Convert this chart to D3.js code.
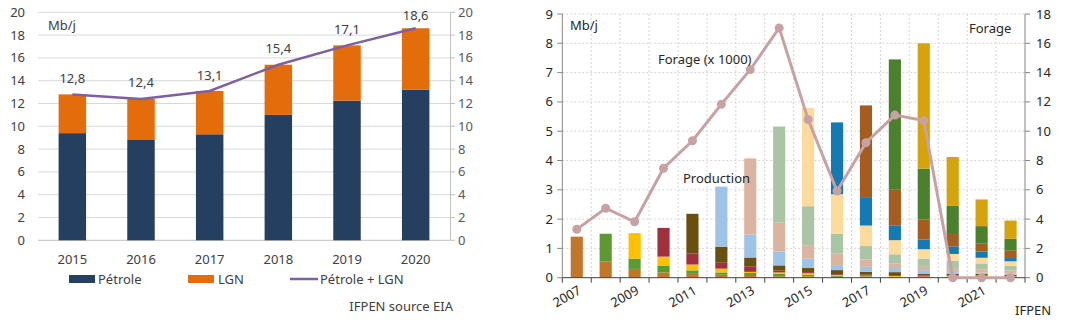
<!DOCTYPE html>
<html>
<head>
<meta charset="utf-8">
<script src="https://cdn.jsdelivr.net/npm/d3@7"></script>
<style>
  body { margin: 0; background: #fff; }
  svg { display: block; font-family: "Noto Sans", "Open Sans", sans-serif; }
</style>
</head>
<body>
<svg id="chart" width="1078" height="333"></svg>
<script>
// ---- left chart data (Mb/j)
var years1 = ['2015', '2016', '2017', '2018', '2019', '2020'];
var petrole = [9.4, 8.8, 9.3, 11.0, 12.25, 13.2];
var total = [12.8, 12.4, 13.1, 15.4, 17.1, 18.6];
var ticks1 = [0, 2, 4, 6, 8, 10, 12, 14, 16, 18, 20];

// ---- right chart data
var years2 = ['2007','2008','2009','2010','2011','2012','2013','2014','2015','2016','2017','2018','2019','2020','2021','2022'];
var xLabels2 = ['2007','2009','2011','2013','2015','2017','2019','2021'];
var vintages = ['2007','2008','2009','2010','2011','2012','2013','2014','2015','2016','2017','2018','2019'];
var vintageColors = ['#c27629','#5e9833','#ffc000','#a22f3e','#6a500f','#9dc3e6','#dab4a1','#aac5a4','#fddb9c','#1579b4','#a65c1f','#4b802d','#d5a30b'];
// production by vintage (rows) for each year of years2 (columns), Mb/j
var prod = [
  [1.4, 0.55, 0.3, 0.18, 0.13, 0.1, 0.06, 0.05, 0.04, 0.03, 0.02, 0.02, 0.01, 0.02, 0.02, 0.01],
  [0, 0.95, 0.35, 0.22, 0.12, 0.08, 0.1, 0.08, 0.06, 0.03, 0.03, 0.02, 0.02, 0.02, 0.02, 0.02],
  [0, 0, 0.87, 0.32, 0.2, 0.13, 0.04, 0.05, 0.05, 0.03, 0.02, 0.02, 0.01, 0.02, 0.02, 0.01],
  [0, 0, 0, 0.98, 0.38, 0.2, 0.19, 0.07, 0.04, 0.03, 0.03, 0.03, 0.03, 0.02, 0.02, 0.02],
  [0, 0, 0, 0, 1.35, 0.55, 0.3, 0.17, 0.14, 0.14, 0.1, 0.1, 0.07, 0.06, 0.05, 0.04],
  [0, 0, 0, 0, 0, 2.05, 0.78, 0.47, 0.32, 0.17, 0.17, 0.14, 0.12, 0.05, 0.04, 0.04],
  [0, 0, 0, 0, 0, 0, 2.6, 1.0, 0.46, 0.39, 0.25, 0.15, 0.11, 0.11, 0.12, 0.11],
  [0, 0, 0, 0, 0, 0, 0, 3.27, 1.33, 0.68, 0.46, 0.32, 0.28, 0.28, 0.2, 0.16],
  [0, 0, 0, 0, 0, 0, 0, 0, 3.36, 1.35, 0.7, 0.48, 0.32, 0.23, 0.19, 0.15],
  [0, 0, 0, 0, 0, 0, 0, 0, 0, 2.45, 0.97, 0.51, 0.33, 0.26, 0.21, 0.11],
  [0, 0, 0, 0, 0, 0, 0, 0, 0, 0, 3.13, 1.21, 0.68, 0.42, 0.27, 0.25],
  [0, 0, 0, 0, 0, 0, 0, 0, 0, 0, 0, 4.45, 1.74, 0.96, 0.6, 0.41],
  [0, 0, 0, 0, 0, 0, 0, 0, 0, 0, 0, 0, 4.28, 1.67, 0.91, 0.62]
];
// drilled wells (x 1000), right axis
var forage = [3.3, 4.74, 3.82, 7.47, 9.35, 11.84, 14.2, 17.05, 10.8, 5.92, 9.22, 11.1, 10.72, 0, 0, 0];
var ticksL2 = [0,1,2,3,4,5,6,7,8,9];
var ticksR2 = [0,2,4,6,8,10,12,14,16,18];

var svg = d3.select('#chart');
var fmt = function(v) { return d3.format('.1f')(v).replace('.', ','); };

// ================= LEFT CHART =================
var g1 = svg.append('g');
var x1 = d3.scaleBand().domain(years1).range([38, 450]).paddingInner(0.6).paddingOuter(0.3);
var y1 = d3.scaleLinear().domain([0, 20]).range([240.3, 12.3]);

g1.selectAll('.grid').data(ticks1.slice(1)).enter().append('line')
  .attr('x1', 38).attr('x2', 450)
  .attr('y1', d => y1(d)).attr('y2', d => y1(d))
  .attr('stroke', '#d9d9d9').attr('stroke-width', 1);
g1.append('line').attr('x1', 38).attr('x2', 450).attr('y1', y1(0)).attr('y2', y1(0))
  .attr('stroke', '#bfbfbf');

// left labels
g1.selectAll('.yl').data(ticks1).enter().append('text')
  .attr('x', 25).attr('y', d => y1(d)).attr('dy', '0.35em')
  .attr('text-anchor', 'end').attr('font-size', 13).attr('fill', '#404040')
  .text(d => d);
// right axis
g1.append('line').attr('x1', 450.5).attr('x2', 450.5).attr('y1', y1(20)).attr('y2', y1(0)).attr('stroke', '#bfbfbf');
g1.selectAll('.rt').data(ticks1).enter().append('line')
  .attr('x1', 450.5).attr('x2', 455).attr('y1', d => y1(d)).attr('y2', d => y1(d)).attr('stroke', '#bfbfbf');
g1.selectAll('.yr').data(ticks1).enter().append('text')
  .attr('x', 458).attr('y', d => y1(d)).attr('dy', '0.35em')
  .attr('font-size', 13).attr('fill', '#595959')
  .text(d => d);

// bars
g1.selectAll('.bp').data(years1).enter().append('rect')
  .attr('x', d => x1(d)).attr('width', x1.bandwidth())
  .attr('y', (d, i) => y1(petrole[i])).attr('height', (d, i) => y1(0) - y1(petrole[i]))
  .attr('fill', '#243f60');
g1.selectAll('.bl').data(years1).enter().append('rect')
  .attr('x', d => x1(d)).attr('width', x1.bandwidth())
  .attr('y', (d, i) => y1(total[i])).attr('height', (d, i) => y1(petrole[i]) - y1(total[i]))
  .attr('fill', '#e46c0a');

var cx1 = d => x1(d) + x1.bandwidth() / 2;
g1.append('path')
  .datum(years1)
  .attr('d', d3.line().x(d => cx1(d)).y((d, i) => y1(total[i])))
  .attr('fill', 'none').attr('stroke', '#7e5fa2').attr('stroke-width', 2.5);
g1.selectAll('.dl').data(years1).enter().append('text')
  .attr('x', d => cx1(d)).attr('y', (d, i) => Math.max(y1(total[i]) - 16, 15)).attr('dy', '0.35em')
  .attr('text-anchor', 'middle').attr('font-size', 13).attr('fill', '#404040')
  .text((d, i) => fmt(total[i]));

// x labels
g1.selectAll('.xl').data(years1).enter().append('text')
  .attr('x', d => cx1(d)).attr('y', 259).attr('dy', '0.35em')
  .attr('text-anchor', 'middle').attr('font-size', 13).attr('fill', '#404040')
  .text(d => d);

g1.append('text').attr('x', 48).attr('y', 25).attr('dy', '0.35em')
  .attr('font-size', 13).attr('fill', '#404040').text('Mb/j');

// legend
var lg = g1.append('g').attr('font-size', 13).attr('fill', '#404040');
lg.append('rect').attr('x', 69).attr('y', 275).attr('width', 26).attr('height', 8).attr('fill', '#243f60');
lg.append('text').attr('x', 98).attr('y', 279).attr('dy', '0.35em').text('Pétrole');
lg.append('rect').attr('x', 188).attr('y', 275).attr('width', 26).attr('height', 8).attr('fill', '#e46c0a');
lg.append('text').attr('x', 218).attr('y', 279).attr('dy', '0.35em').text('LGN');
lg.append('line').attr('x1', 290).attr('x2', 318).attr('y1', 279).attr('y2', 279)
  .attr('stroke', '#7e5fa2').attr('stroke-width', 2.5);
lg.append('text').attr('x', 320).attr('y', 279).attr('dy', '0.35em').text('Pétrole + LGN');

g1.append('text').attr('x', 453).attr('y', 306).attr('dy', '0.35em')
  .attr('text-anchor', 'end').attr('font-size', 13).attr('fill', '#404040')
  .text('IFPEN source EIA');

// ================= RIGHT CHART =================
var g2 = svg.append('g');
var left2 = 562.3, right2 = 1025;
var x2 = d3.scaleBand().domain(years2).range([left2, right2]).paddingInner(0.58).paddingOuter(0.29);
var step2 = x2.step();
var bound = i => left2 + i * step2;
var yL = d3.scaleLinear().domain([0, 9]).range([277.7, 14]);
var yR = d3.scaleLinear().domain([0, 18]).range([277.7, 14]);

// dashed grid
g2.selectAll('.hg').data(ticksL2.slice(1)).enter().append('line')
  .attr('x1', left2).attr('x2', right2).attr('y1', d => yL(d)).attr('y2', d => yL(d))
  .attr('stroke', '#d4d4d4').attr('stroke-dasharray', '2,2');
g2.selectAll('.vg').data(d3.range(1, years2.length)).enter().append('line')
  .attr('x1', d => bound(d)).attr('x2', d => bound(d)).attr('y1', yL(9)).attr('y2', yL(0))
  .attr('stroke', '#d4d4d4').attr('stroke-dasharray', '2,2');

// stacked bars
var rows = years2.map((y, j) => {
  var o = { year: y };
  vintages.forEach((v, k) => { o[v] = prod[k][j]; });
  return o;
});
var stack = d3.stack().keys(vintages)(rows);
g2.selectAll('.layer').data(stack).enter().append('g')
  .attr('fill', (d, k) => vintageColors[k])
  .selectAll('rect').data(d => d).enter().append('rect')
  .attr('x', d => x2(d.data.year)).attr('width', x2.bandwidth())
  .attr('y', d => yL(d[1])).attr('height', d => Math.max(0, yL(d[0]) - yL(d[1])));

// axes
var axc = '#868686';
g2.append('line').attr('x1', left2).attr('x2', left2).attr('y1', yL(9)).attr('y2', yL(0)).attr('stroke', axc);
g2.selectAll('.lt').data(ticksL2).enter().append('line')
  .attr('x1', left2 - 5).attr('x2', left2).attr('y1', d => yL(d)).attr('y2', d => yL(d)).attr('stroke', axc);
g2.selectAll('.ll').data(ticksL2).enter().append('text')
  .attr('x', 553).attr('y', d => yL(d)).attr('dy', '0.35em')
  .attr('text-anchor', 'end').attr('font-size', 13).attr('fill', '#262626').text(d => d);

g2.append('line').attr('x1', right2).attr('x2', right2).attr('y1', yR(18)).attr('y2', yR(0)).attr('stroke', axc);
g2.selectAll('.rt2').data(ticksR2).enter().append('line')
  .attr('x1', right2).attr('x2', right2 + 5).attr('y1', d => yR(d)).attr('y2', d => yR(d)).attr('stroke', axc);
g2.selectAll('.rl').data(ticksR2).enter().append('text')
  .attr('x', 1036).attr('y', d => yR(d)).attr('dy', '0.35em')
  .attr('font-size', 13).attr('fill', '#262626').text(d => d);

g2.append('line').attr('x1', left2).attr('x2', right2).attr('y1', yL(0)).attr('y2', yL(0)).attr('stroke', '#404040');
g2.selectAll('.xt').data(d3.range(0, years2.length + 1)).enter().append('line')
  .attr('x1', d => bound(d)).attr('x2', d => bound(d)).attr('y1', yL(0)).attr('y2', yL(0) + 5)
  .attr('stroke', '#404040');
g2.selectAll('.xl2').data(xLabels2).enter().append('text')
  .attr('transform', d => 'translate(' + (x2(d) + x2.bandwidth() / 2 + 3) + ',' + 289 + ') rotate(-30)')
  .attr('text-anchor', 'end').attr('dy', '0.35em')
  .attr('font-size', 13).attr('fill', '#262626').text(d => d);

// forage line
var cx2 = d => x2(d) + x2.bandwidth() / 2;
var fc = '#c7a2a5';
g2.append('path').datum(years2)
  .attr('d', d3.line().x(d => cx2(d)).y((d, i) => yR(forage[i])))
  .attr('fill', 'none').attr('stroke', fc).attr('stroke-width', 3);
g2.selectAll('.fp').data(years2).enter().append('circle')
  .attr('cx', d => cx2(d)).attr('cy', (d, i) => yR(forage[i])).attr('r', 4.5).attr('fill', fc);

// texts
var tx = g2.append('g').attr('font-size', 13).attr('fill', '#262626');
tx.append('text').attr('x', 570).attr('y', 25).attr('dy', '0.35em').text('Mb/j');
tx.append('text').attr('x', 658).attr('y', 59).attr('dy', '0.35em').text('Forage (x 1000)');
tx.append('text').attr('x', 683).attr('y', 178).attr('dy', '0.35em').text('Production');
tx.append('text').attr('x', 969).attr('y', 28).attr('dy', '0.35em').text('Forage');
tx.append('text').attr('x', 1015).attr('y', 310).attr('dy', '0.35em').text('IFPEN');
</script>
</body>
</html>
